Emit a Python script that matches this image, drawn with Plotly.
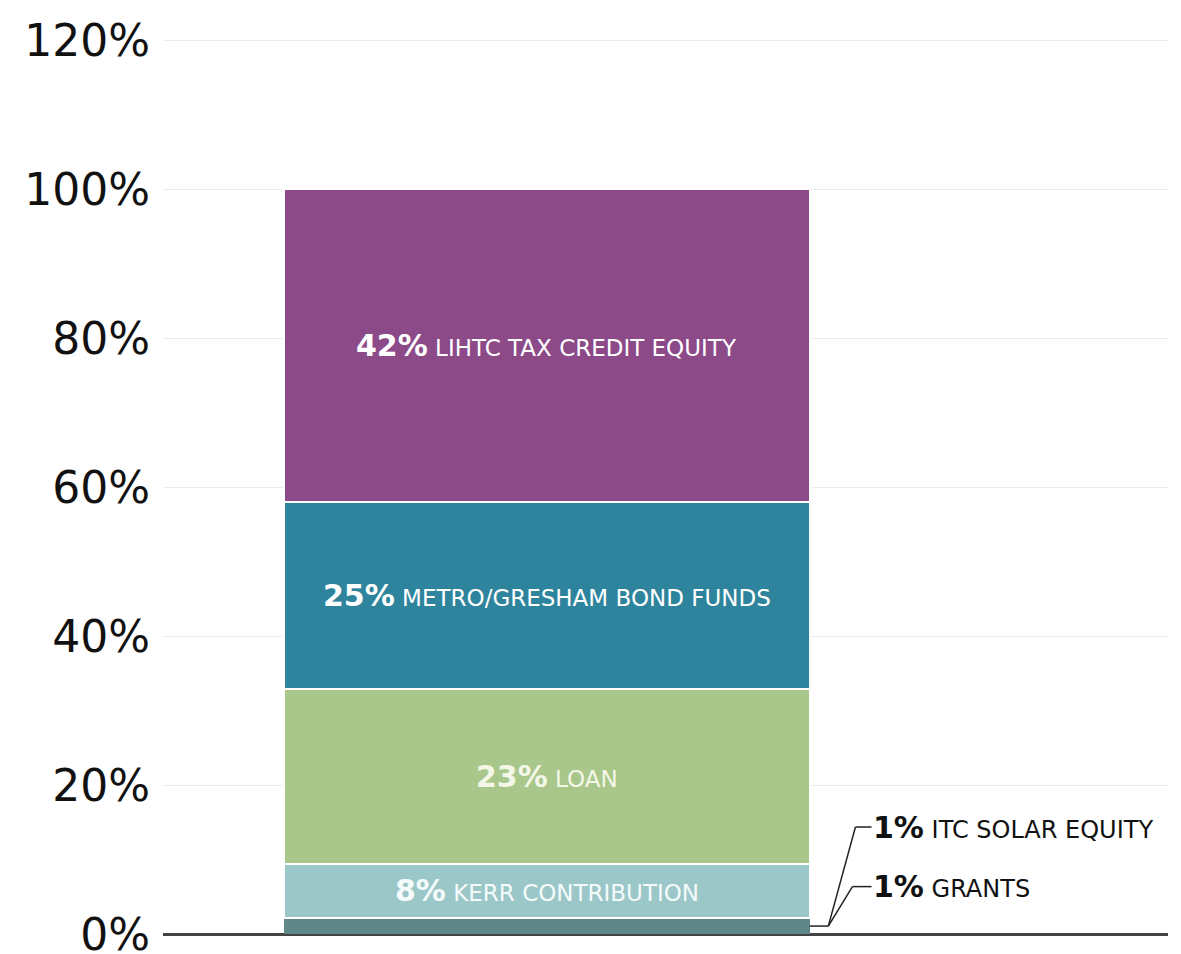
import plotly.graph_objects as go

# Data (percent of total funding)
sources = ["GRANTS", "ITC SOLAR EQUITY", "KERR CONTRIBUTION", "LOAN",
           "METRO/GRESHAM BOND FUNDS", "LIHTC TAX CREDIT EQUITY"]
values = [1.1, 1.1, 7.3, 23.4, 25.2, 41.9]
labels_pct = ["1%", "1%", "8%", "23%", "25%", "42%"]
colors = ["#5f8788", "#5f8788", "#9cc7c9", "#a9c78b", "#2f849d", "#8c4a89"]
text_colors = ["#000000", "#000000", "#f4fbfb", "#f3f7e8", "#ffffff", "#ffffff"]
y_ticks = [0, 20, 40, 60, 80, 100, 120]
y_ticklabels = ["0%", "20%", "40%", "60%", "80%", "100%", "120%"]

BAR_X = 0.382
BAR_W = 0.523
FONT = "DejaVu Sans"
PCT_SIZE = 30
TXT_SIZE = 23

fig = go.Figure()
for i, (s, v, c) in enumerate(zip(sources, values, colors)):
    lw = 0 if i < 2 else 2
    fig.add_trace(go.Bar(
        x=[BAR_X], y=[v], width=[BAR_W], name=s,
        marker=dict(color=c, line=dict(color="white", width=lw)),
        hoverinfo="skip", showlegend=False,
    ))

annotations = []
shapes = []
cum = 0
mids = []
for v in values:
    mids.append(cum + v / 2)
    cum += v

# Labels inside the bar for the larger segments
for i in range(2, len(values)):
    annotations.append(dict(
        x=BAR_X, y=mids[i], xref="x", yref="y", showarrow=False,
        text=f"<b><span style='font-size:{PCT_SIZE}px'>{labels_pct[i]}</span></b> {sources[i]}",
        font=dict(family=FONT, size=TXT_SIZE, color=text_colors[i]),
        xanchor="center", yanchor="middle",
    ))

# Callouts on the right for the two small segments
bar_right = BAR_X + BAR_W / 2
bottom_y = (values[0] + values[1]) / 2
elbow_x = 0.662
callouts = [(1, 14.4, 0.689), (0, 6.4, 0.686)]
shapes.append(dict(type="line", xref="x", yref="y", x0=bar_right, y0=bottom_y,
                   x1=elbow_x, y1=bottom_y, line=dict(color="#222", width=1.5)))
for idx, ly, kx in callouts:
    shapes.append(dict(type="line", xref="x", yref="y", x0=elbow_x, y0=bottom_y,
                       x1=kx, y1=ly, line=dict(color="#222", width=1.5)))
    shapes.append(dict(type="line", xref="x", yref="y", x0=kx, y0=ly,
                       x1=0.705, y1=ly, line=dict(color="#222", width=1.5)))
    annotations.append(dict(
        x=0.704, y=ly, xref="x", yref="y", showarrow=False,
        text=f"<b><span style='font-size:{PCT_SIZE}px'>{labels_pct[idx]}</span></b> {sources[idx]}",
        font=dict(family=FONT, size=TXT_SIZE + 1, color="#111"),
        xanchor="left", yanchor="middle",
    ))

fig.update_layout(
    barmode="stack",
    width=1181, height=954,
    margin=dict(l=163, r=13, t=33, b=16, autoexpand=False),
    paper_bgcolor="white", plot_bgcolor="white",
    font=dict(family=FONT, color="#111"),
    xaxis=dict(range=[0, 1], visible=False, fixedrange=True),
    yaxis=dict(range=[-0.5, 121], tickvals=y_ticks, ticktext=y_ticklabels,
               tickfont=dict(family=FONT, size=44, color="#111"),
               showgrid=True, gridcolor="#ebebeb", gridwidth=1,
               zeroline=True, zerolinecolor="#444", zerolinewidth=3,
               ticks="", ticklabelstandoff=12, ticklabeloverflow="allow",
               automargin=False, fixedrange=True),
    annotations=annotations,
    shapes=shapes,
)

fig.write_html("out.html")
